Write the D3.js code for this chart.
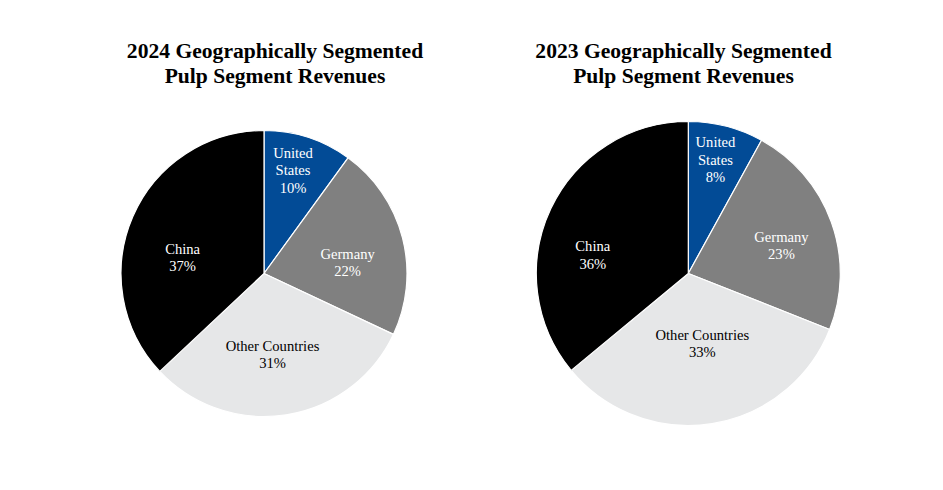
<!DOCTYPE html>
<html>
<head>
<meta charset="utf-8">
<script src="https://cdn.jsdelivr.net/npm/d3@7"></script>
<style>
  html, body { margin: 0; padding: 0; background: #fff; }
  svg { display: block; }
</style>
</head>
<body>
<svg id="chart" width="943" height="490"></svg>
<script>
// ---- Data ----
const categories = ["United States", "Germany", "Other Countries", "China"];
const values2024 = [10, 22, 31, 37];
const values2023 = [8, 23, 33, 36];
const titles2024 = ["2024 Geographically Segmented", "Pulp Segment Revenues"];
const titles2023 = ["2023 Geographically Segmented", "Pulp Segment Revenues"];

// ---- Styles ----
const colors = d3.scaleOrdinal()
  .domain(categories)
  .range(["#024b96", "#808080", "#e6e7e8", "#000000"]);
const textColors = d3.scaleOrdinal()
  .domain(categories)
  .range(["#ffffff", "#ffffff", "#000000", "#ffffff"]);
const labelLines = {
  "United States": ["United", "States"],
  "Germany": ["Germany"],
  "Other Countries": ["Other Countries"],
  "China": ["China"]
};

const charts = [
  { values: values2024, titles: titles2024, cx: 264, cy: 273.5, r: 143, titleX: 275,
    // label polar placement: [radius fraction, angle tweak in degrees]
    labelPolar: [[0.75, -2.3], [0.59, 6.9], [0.57, 3], [0.58, -12.4]] },
  { values: values2023, titles: titles2023, cx: 688.3, cy: 273.5, r: 152, titleX: 683.5,
    labelPolar: [[0.77, -1], [0.64, 3], [0.47, -2.3], [0.64, -14.3]] }
];

const svg = d3.select("#chart");
const fontFamily = "'Liberation Serif', 'Times New Roman', serif";

charts.forEach(ch => {
  const data = categories.map((c, i) => ({ cat: c, value: ch.values[i], idx: i }));
  const pie = d3.pie().value(d => d.value).sort(null);
  const arcs = pie(data);
  const arc = d3.arc().innerRadius(0).outerRadius(ch.r);

  // Title
  const t = svg.append("text")
    .attr("x", ch.titleX)
    .attr("y", 58)
    .attr("text-anchor", "middle")
    .attr("font-family", fontFamily)
    .attr("font-weight", "bold")
    .attr("font-size", 21.6)
    .attr("fill", "#000");
  ch.titles.forEach((line, i) => {
    t.append("tspan").attr("x", ch.titleX).attr("dy", i === 0 ? 0 : 25).text(line);
  });

  const g = svg.append("g").attr("transform", `translate(${ch.cx},${ch.cy})`);

  g.selectAll("path.slice")
    .data(arcs)
    .join("path")
    .attr("class", "slice")
    .attr("d", arc)
    .attr("fill", d => colors(d.data.cat))
    .attr("stroke", "#ffffff")
    .attr("stroke-width", 1.2)
    .attr("stroke-linejoin", "round");

  const lineH = 17.5;
  const fs = 14.6;
  arcs.forEach(a => {
    const [frac, dDeg] = ch.labelPolar[a.data.idx];
    const mid = (a.startAngle + a.endAngle) / 2 + dDeg * Math.PI / 180;
    const rr = frac * ch.r;
    const x = Math.sin(mid) * rr;
    const y = -Math.cos(mid) * rr;
    const lines = labelLines[a.data.cat].concat([a.data.value + "%"]);
    const y0 = y - (lines.length - 1) * lineH / 2;
    const txt = g.append("text")
      .attr("text-anchor", "middle")
      .attr("font-family", fontFamily)
      .attr("font-size", fs)
      .attr("fill", textColors(a.data.cat));
    lines.forEach((ln, i) => {
      txt.append("tspan")
        .attr("x", x)
        .attr("y", y0 + i * lineH)
        .attr("dominant-baseline", "central")
        .text(ln);
    });
  });
});
</script>
</body>
</html>
